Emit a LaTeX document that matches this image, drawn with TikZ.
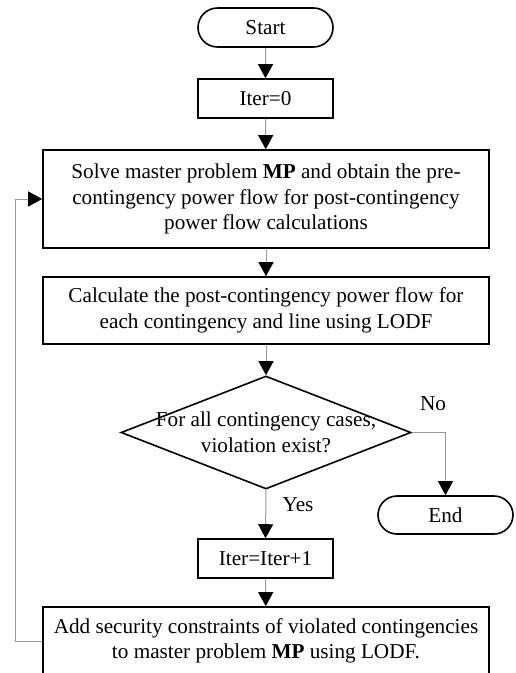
\documentclass[tikz,border=0pt]{standalone}
\usepackage{fontspec}
\setmainfont{Liberation Serif}
\usepackage{tikz}
\usetikzlibrary{shapes.misc}
\usetikzlibrary{shapes.geometric}
\usetikzlibrary{arrows.meta}
\usetikzlibrary{positioning}
\tikzstyle{box}=[rectangle, draw, line width=1.6pt, align=center, inner sep=0pt]
\tikzstyle{terminal}=[rounded rectangle, draw, line width=1.6pt, minimum width=135pt, minimum height=39pt, inner sep=0pt]
\tikzstyle{small}=[box, minimum width=135pt, minimum height=39pt]
\tikzstyle{wide}=[box, minimum width=446pt]
\tikzstyle{decision}=[diamond, draw, line width=1.6pt, minimum width=290pt, minimum height=113pt, inner sep=0pt]
\tikzstyle{flow}=[-{Triangle[length=14pt, width=15pt, black]}, gray!80, line width=1pt]
\tikzstyle{link}=[gray!80, line width=1pt]
\tikzset{every node/.style={
    font=\fontsize{21.2pt}{25.5pt}\selectfont
  }
}

\begin{document}
\begin{tikzpicture}[x=1pt, y=-1pt]
        \useasboundingbox (0,0) rectangle (515,673);
        \node[terminal] at (265.5,27.5) (start) {Start};
        \node[small] at (265.5,98.5) (init) {Iter=0};
        \node[wide, minimum height=98pt] at (266,199) (solve) {Solve master problem \textbf{MP} and obtain the pre-\\contingency power flow for post-contingency\\power flow calculations};
        \node[wide, minimum height=67pt] at (266,310.5) (calc) {Calculate the post-contingency power flow for\\each contingency and line using LODF};
        \node[decision] at (266,432.5) (check) {};
        \node[align=center] at (check.center) (question) {For all contingency cases,\\violation exist?};
        \node[terminal, minimum height=38pt] at (445.5,515) (stop) {End};
        \node[small] at (265.5,558.5) (incr) {Iter=Iter+1};
        \node[wide, minimum height=68pt] at (266,641) (add) {Add security constraints of violated contingencies\\to master problem \textbf{MP} using LODF.};
        \node at (433,404) (no) {No};
        \node at (298,505) (yes) {Yes};
        \coordinate (back) at (15,641);
        \draw[flow] (start) -- (init);
        \draw[flow] (init) -- (solve);
        \draw[flow] (solve) -- (calc);
        \draw[flow] (calc) -- (check);
        \draw[flow] (check.east) -| (stop.north);
        \draw[flow] (check.south) -- (incr.north);
        \draw[flow] (incr) -- (add);
        \draw[link] (add.west) -- (back);
        \draw[flow] (back) |- (solve.west);
      \end{tikzpicture}
\end{document}
